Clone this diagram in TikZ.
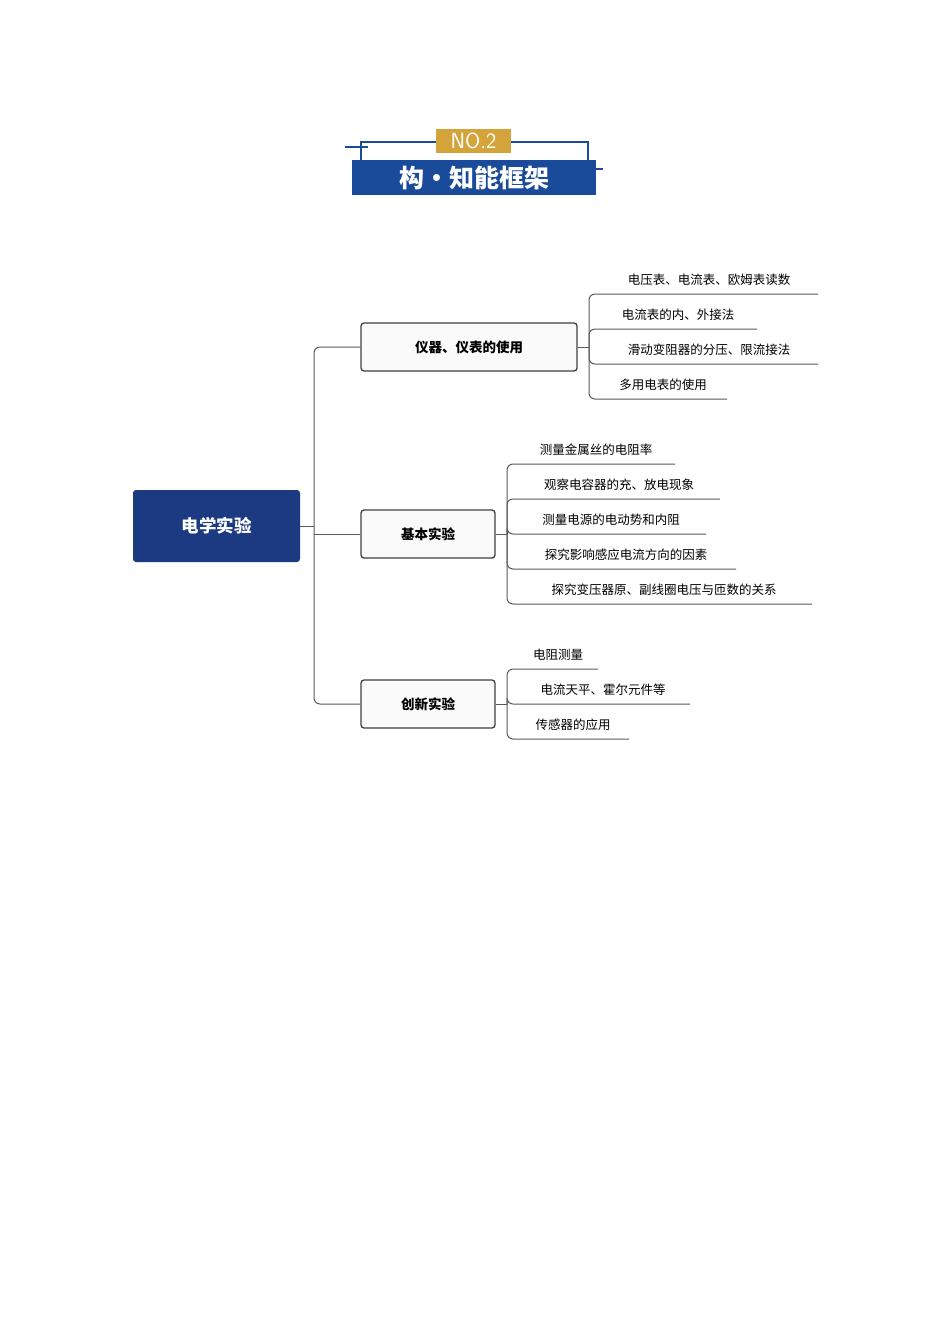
\documentclass[tikz,border=0pt]{standalone}
\usepackage{fontspec}
\newfontfamily\cjk{Noto Sans CJK SC}
\definecolor{navy}{HTML}{1B3A82}
\definecolor{hblue}{HTML}{1A4A9A}
\definecolor{gold}{HTML}{D4A43A}
\tikzset{
  branch/.style={draw=black!75, line width=1.3pt, rounded corners=3pt, fill=black!2, font=\cjk\bfseries\fontsize{13.5}{16}\selectfont},
  leaf/.style={font=\cjk\fontsize{12.5}{15}\selectfont, inner sep=1pt},
  wire/.style={draw=black!65, line width=1pt, rounded corners=6pt},
}
\begin{document}
\begin{tikzpicture}[x=1pt, y=-1pt]
  \useasboundingbox (0,0) rectangle (950,1344);
  % header
  \draw[hblue, line width=1.2pt] (361,160) -- (361,142) -- (436,142) (511,142) -- (588,142) -- (588,160);
  \draw[hblue, line width=1.2pt] (345,147) -- (368,147) (596,169) -- (603,169);
  \node[fill=hblue, minimum width=244pt, minimum height=35pt, inner sep=0pt, text=white, font=\cjk\bfseries\fontsize{25}{28}\selectfont] (title) at (474,177.5) {构·知能框架};
  \node[fill=gold, minimum width=75pt, minimum height=24pt, inner sep=0pt, text=white, font=\sffamily\fontsize{22}{24}\selectfont] (no) at (473.5,141) {NO.2};

  % root and branches
  \node[fill=navy, rounded corners=3pt, minimum width=167pt, minimum height=72pt, text=white, font=\cjk\bfseries\fontsize{17.5}{20}\selectfont] (root) at (216.5,526) {电学实验};
  \node[branch, minimum width=216pt, minimum height=48pt] (instr) at (469,347) {仪器、仪表的使用};
  \node[branch, minimum width=134pt, minimum height=48pt] (basic) at (428,534) {基本实验};
  \node[branch, minimum width=134pt, minimum height=48pt] (innov) at (428,704) {创新实验};
  \coordinate (trunk) at (314,526);
  \draw[wire] (root.east) -- (trunk);
  \draw[wire] (instr.west) -- (314,347) -- (314,704) -- (innov.west);
  \draw[wire] (trunk |- basic) -- (basic.west);

  % leaves of instr
  \node[leaf] (i1) at (709,280) {电压表、电流表、欧姆表读数};
  \node[leaf] (i2) at (678,315) {电流表的内、外接法};
  \node[leaf] (i3) at (709,350) {滑动变阻器的分压、限流接法};
  \node[leaf] (i4) at (663,385) {多用电表的使用};
  \draw[wire] (instr.east) -- (589,347);
  \foreach \y/\e in {294/818, 329/757, 364/818, 399/727}
    \draw[wire] (589,347) -- (589,\y) -- (\e,\y);

  % leaves of basic
  \node[leaf] (b1) at (596,450) {测量金属丝的电阻率};
  \node[leaf] (b2) at (619,485) {观察电容器的充、放电现象};
  \node[leaf] (b3) at (611,520) {测量电源的电动势和内阻};
  \node[leaf] (b4) at (626,555) {探究影响感应电流方向的因素};
  \node[leaf] (b5) at (664,590) {探究变压器原、副线圈电压与匝数的关系};
  \draw[wire] (basic.east) -- (507,534);
  \foreach \y/\e in {464/675, 499/720, 534/706, 569/736, 604/812}
    \draw[wire] (507,534) -- (507,\y) -- (\e,\y);

  % leaves of innov
  \node[leaf] (n1) at (558,655) {电阻测量};
  \node[leaf] (n2) at (603,690) {电流天平、霍尔元件等};
  \node[leaf] (n3) at (573,725) {传感器的应用};
  \draw[wire] (innov.east) -- (507,704);
  \foreach \y/\e in {669/598, 704/690, 739/629}
    \draw[wire] (507,704) -- (507,\y) -- (\e,\y);
\end{tikzpicture}
\end{document}
